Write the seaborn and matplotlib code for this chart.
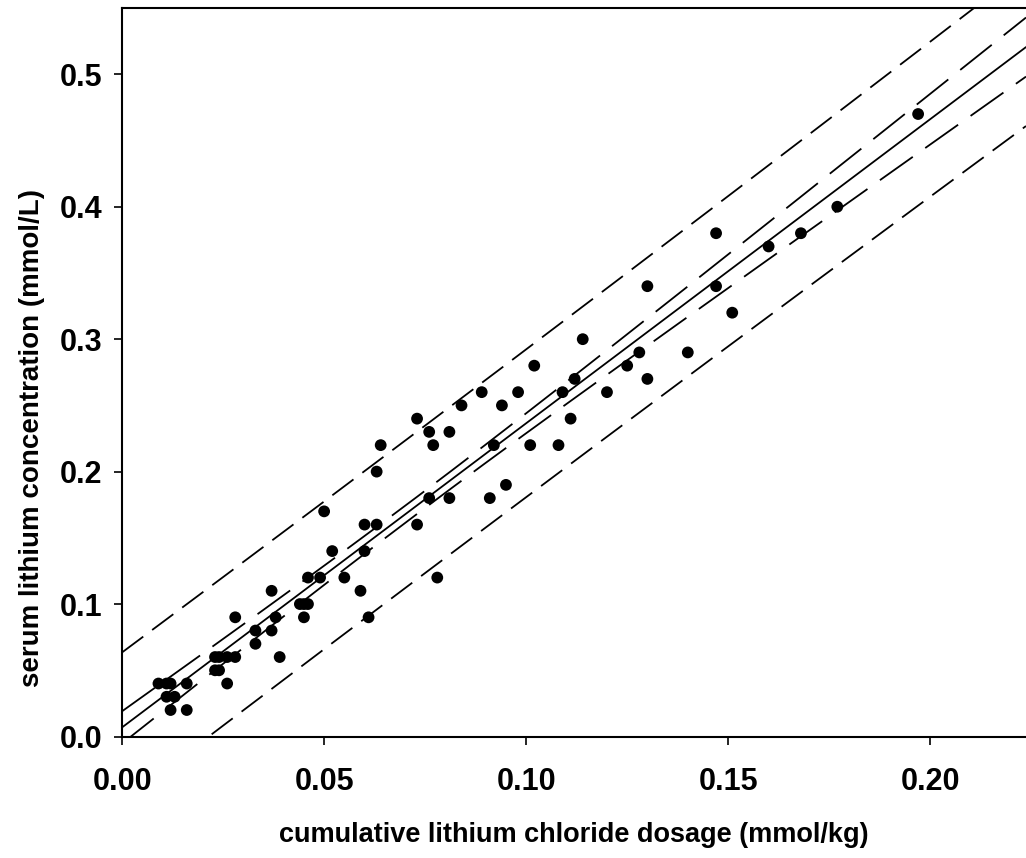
import numpy as np
import pandas as pd
import matplotlib
matplotlib.use("Agg")
import matplotlib.pyplot as plt
import seaborn as sns

# ---- data ----
dose = [0.009, 0.011, 0.012, 0.016, 0.011, 0.013, 0.012, 0.016,
        0.023, 0.024, 0.026, 0.028, 0.023, 0.024, 0.026, 0.028,
        0.033, 0.033, 0.037, 0.038, 0.037, 0.039, 0.044, 0.045,
        0.046, 0.045, 0.046, 0.049, 0.050, 0.052, 0.055, 0.059,
        0.060, 0.060, 0.061, 0.063, 0.063, 0.064, 0.073, 0.073,
        0.076, 0.076, 0.077, 0.078, 0.081, 0.081, 0.084, 0.089,
        0.091, 0.092, 0.094, 0.095, 0.098, 0.101, 0.102, 0.108,
        0.109, 0.111, 0.112, 0.114, 0.120, 0.125, 0.128, 0.130,
        0.130, 0.140, 0.147, 0.147, 0.151, 0.160, 0.168, 0.177,
        0.197]
serum = [0.04, 0.04, 0.04, 0.04, 0.03, 0.03, 0.02, 0.02,
         0.06, 0.06, 0.06, 0.06, 0.05, 0.05, 0.04, 0.09,
         0.08, 0.07, 0.11, 0.09, 0.08, 0.06, 0.10, 0.10,
         0.10, 0.09, 0.12, 0.12, 0.17, 0.14, 0.12, 0.11,
         0.16, 0.14, 0.09, 0.16, 0.20, 0.22, 0.24, 0.16,
         0.23, 0.18, 0.22, 0.12, 0.23, 0.18, 0.25, 0.26,
         0.18, 0.22, 0.25, 0.19, 0.26, 0.22, 0.28, 0.22,
         0.26, 0.24, 0.27, 0.30, 0.26, 0.28, 0.29, 0.34,
         0.27, 0.29, 0.38, 0.34, 0.32, 0.37, 0.38, 0.40,
         0.47]
x_ticks = [0.00, 0.05, 0.10, 0.15, 0.20]
y_ticks = [0.0, 0.1, 0.2, 0.3, 0.4, 0.5]
x_label = "cumulative lithium chloride dosage (mmol/kg)"
y_label = "serum lithium concentration (mmol/L)"

df = pd.DataFrame({"dose": dose, "serum": serum})

# ---- linear regression with 95% confidence and prediction bands ----
x = np.asarray(dose)
y = np.asarray(serum)
n = len(x)
xbar = x.mean()
sxx = np.sum((x - xbar) ** 2)
b = np.sum((x - xbar) * (y - y.mean())) / sxx
a = y.mean() - b * xbar
s = np.sqrt(np.sum((y - (a + b * x)) ** 2) / (n - 2))
t = 1.994  # t(0.975, df=71)

xmax = 0.2237
xg = np.linspace(0, xmax, 400)
fit = a + b * xg
ci = t * s * np.sqrt(1 / n + (xg - xbar) ** 2 / sxx)
pi = t * s * np.sqrt(1 + 1 / n + (xg - xbar) ** 2 / sxx)
bands = pd.DataFrame({"x": xg, "fit": fit, "ci_lo": fit - ci, "ci_hi": fit + ci,
                      "pi_lo": fit - pi, "pi_hi": fit + pi})

# ---- plot ----
sns.set_style("ticks")
plt.rcParams["font.family"] = ["Liberation Sans", "DejaVu Sans"]
plt.rcParams["lines.scale_dashes"] = False
plt.rcParams["text.color"] = "black"
plt.rcParams["axes.labelcolor"] = "black"

fig = plt.figure(figsize=(10.26, 8.58), dpi=100)
ax = fig.add_axes([0.119, 0.1416, 0.881, 0.849])

lw = 1.3
sns.lineplot(data=bands, x="x", y="fit", ax=ax, color="black", lw=lw, linestyle="-")
for col in ["ci_lo", "ci_hi"]:
    sns.lineplot(data=bands, x="x", y=col, ax=ax, color="black", lw=lw,
                 linestyle=(0, (29, 11)))
for col in ["pi_lo", "pi_hi"]:
    sns.lineplot(data=bands, x="x", y=col, ax=ax, color="black", lw=lw,
                 linestyle=(0, (19, 8)))

sns.scatterplot(data=df, x="dose", y="serum", ax=ax, color="black", s=72,
                edgecolor="none", zorder=5)

ax.set_xlim(0, xmax)
ax.set_ylim(0, 0.55)
ax.set_xticks(x_ticks)
ax.set_xticklabels([f"{v:.2f}" for v in x_ticks], fontweight="bold")
ax.set_yticks(y_ticks)
ax.set_yticklabels([f"{v:.1f}" for v in y_ticks], fontweight="bold")
ax.tick_params(axis="both", direction="out", length=6, width=1.2, labelsize=22,
               color="black", labelcolor="black")
ax.tick_params(axis="x", pad=16)
ax.tick_params(axis="y", pad=8)
ax.set_xlabel(x_label, fontsize=19.5, fontweight="bold", labelpad=18)
ax.set_ylabel(y_label, fontsize=20, fontweight="bold")
ax.yaxis.set_label_coords(-0.085, 0.41)
for side in ["left", "bottom", "top"]:
    ax.spines[side].set_color("black")
    ax.spines[side].set_linewidth(1.5)
ax.spines["right"].set_visible(False)
ax.spines["top"].set_visible(True)

fig.savefig("out.png", dpi=100)
